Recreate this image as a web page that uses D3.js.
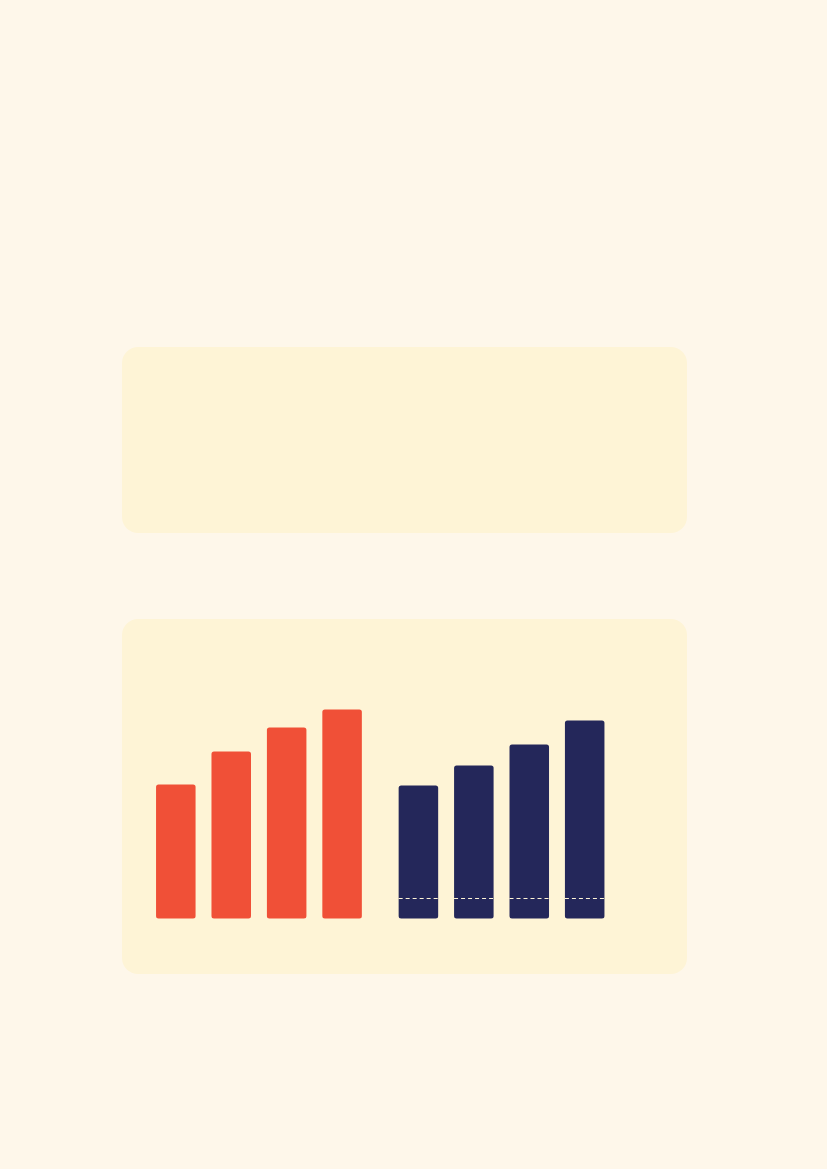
<!DOCTYPE html>
<html>
<head>
<meta charset="utf-8">
<script src="https://cdn.jsdelivr.net/npm/d3@7"></script>
<style>
html,body{margin:0;padding:0;background:#FEF7EA;}
svg{display:block;}
</style>
</head>
<body>
<svg id="chart" width="827" height="1169"></svg>
<script>
// Data
const redCategories = ["A1", "A2", "A3", "A4"];
const redValues = [134, 167, 191, 209];
const navyCategories = ["B1", "B2", "B3", "B4"];
const navyValues = [133, 153, 174, 198];
const navyMarker = [20, 20, 20, 20];

const svg = d3.select("#chart");
svg.append("rect").attr("width", 827).attr("height", 1169).attr("fill", "#FEF7EA");

// Panels
svg.append("rect").attr("x", 122).attr("y", 347).attr("width", 565).attr("height", 186)
  .attr("rx", 16).attr("fill", "#FEF4D6");
svg.append("rect").attr("x", 122).attr("y", 619).attr("width", 565).attr("height", 355)
  .attr("rx", 16).attr("fill", "#FEF4D6");

const baseline = 918.5;
const y = d3.scaleLinear().domain([0, 250]).range([baseline, baseline - 250]);

const xRed = d3.scaleBand().domain(redCategories).range([149.4, 368.5]).paddingInner(0.287).paddingOuter(0.12);
const xNavy = d3.scaleBand().domain(navyCategories).range([392.0, 611.1]).paddingInner(0.287).paddingOuter(0.12);

svg.append("g").selectAll("rect").data(redValues).join("rect")
  .attr("x", (d, i) => xRed(redCategories[i]))
  .attr("y", d => y(d))
  .attr("width", xRed.bandwidth())
  .attr("height", d => y(0) - y(d))
  .attr("rx", 2.5)
  .attr("fill", "#F05037");

svg.append("g").selectAll("rect").data(navyValues).join("rect")
  .attr("x", (d, i) => xNavy(navyCategories[i]))
  .attr("y", d => y(d))
  .attr("width", xNavy.bandwidth())
  .attr("height", d => y(0) - y(d))
  .attr("rx", 2.5)
  .attr("fill", "#24275A");

svg.append("g").selectAll("line").data(navyMarker).join("line")
  .attr("x1", (d, i) => xNavy(navyCategories[i]))
  .attr("x2", (d, i) => xNavy(navyCategories[i]) + xNavy.bandwidth())
  .attr("y1", d => y(d))
  .attr("y2", d => y(d))
  .attr("stroke", "#FEF4D6")
  .attr("stroke-width", 1)
  .attr("stroke-dasharray", "4,3");
</script>
</body>
</html>
